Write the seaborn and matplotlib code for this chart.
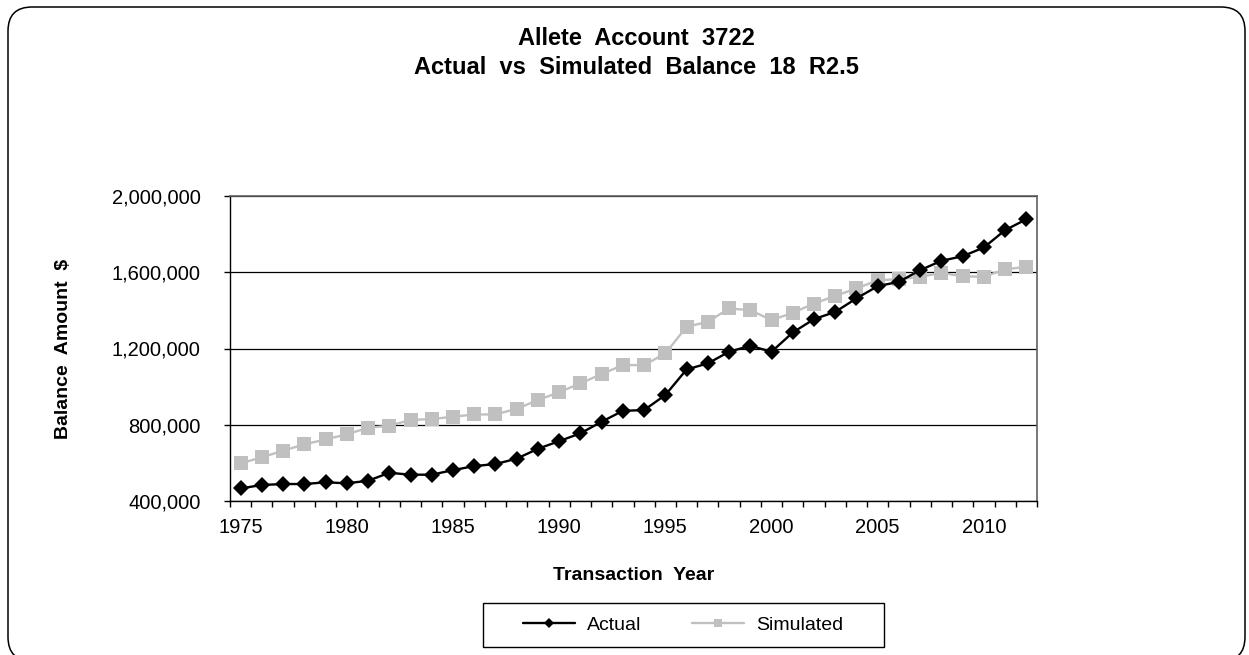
import numpy as np
import pandas as pd
import seaborn as sns
import matplotlib.pyplot as plt
from matplotlib.patches import FancyBboxPatch, Rectangle
from matplotlib.ticker import FuncFormatter, MultipleLocator, FixedLocator

years = list(range(1975, 2013))
actual = [466000, 484000, 489000, 489000, 498000, 493000, 506000, 548000, 538000, 538000,
          562000, 583000, 594000, 622000, 674000, 714000, 755000, 816000, 873000, 877000,
          956000, 1090000, 1122000, 1183000, 1214000, 1183000, 1284000, 1354000, 1392000, 1463000,
          1527000, 1550000, 1611000, 1660000, 1684000, 1730000, 1821000, 1878000]
simulated = [598000, 629000, 664000, 697000, 723000, 750000, 784000, 795000, 825000, 830000,
             842000, 854000, 854000, 884000, 929000, 971000, 1017000, 1066000, 1113000, 1113000,
             1174000, 1314000, 1340000, 1410000, 1401000, 1349000, 1387000, 1436000, 1476000, 1515000,
             1558000, 1564000, 1576000, 1597000, 1579000, 1576000, 1616000, 1628000]

sns.set_style("white")
plt.rcParams['font.family'] = ['Liberation Sans', 'DejaVu Sans']
plt.rcParams['text.color'] = 'black'
plt.rcParams['axes.labelcolor'] = 'black'

df = pd.DataFrame({'year': years, 'Actual': actual, 'Simulated': simulated})

fig = plt.figure(figsize=(12.49, 6.55), dpi=100)
ax = fig.add_axes([230 / 1249, 1 - 501 / 655, 807 / 1249, 305 / 655])

# outer rounded frame
frame = FancyBboxPatch((0.08, -0.06), 12.37, 6.54, boxstyle="round,pad=0,rounding_size=0.24",
                       transform=fig.dpi_scale_trans, facecolor='none', edgecolor='black',
                       linewidth=1.1, zorder=0)
fig.patches.append(frame)

sns.lineplot(data=df, x='year', y='Simulated', ax=ax, color='#c0c0c0', lw=1.7,
             marker='s', markersize=10, markeredgewidth=0, label='Simulated', zorder=3)
sns.lineplot(data=df, x='year', y='Actual', ax=ax, color='black', lw=1.7,
             marker='D', markersize=8, markeredgewidth=0, label='Actual', zorder=4)

ax.set_xlim(1974.5, 2012.5)
ax.set_ylim(400000, 2000000)
ax.yaxis.set_major_locator(MultipleLocator(400000))
ax.yaxis.set_major_formatter(FuncFormatter(lambda v, p: f'{int(v):,}'))
ax.xaxis.set_major_locator(FixedLocator([1975, 1980, 1985, 1990, 1995, 2000, 2005, 2010]))
ax.xaxis.set_minor_locator(FixedLocator([y - 0.5 for y in years] + [2012.5]))
ax.grid(axis='y', color='black', lw=0.9)
ax.set_axisbelow(True)

ax.tick_params(axis='x', which='major', length=0, pad=12, labelsize=14.5, colors='black')
ax.tick_params(axis='x', which='minor', length=4, width=1, direction='out', bottom=True, color='black')
ax.tick_params(axis='y', which='major', length=4, width=1, direction='out', left=True,
               pad=17, labelsize=14.5, colors='black')

for s in ['left', 'bottom']:
    ax.spines[s].set_color('black')
    ax.spines[s].set_linewidth(1)
for s in ['top', 'right']:
    ax.spines[s].set_color('#606060')
    ax.spines[s].set_linewidth(1.2)

ax.set_xlabel('Transaction  Year', fontsize=14, fontweight='bold')
ax.xaxis.set_label_coords(0.5, -0.215)
ax.set_ylabel('Balance  Amount  $', fontsize=14, fontweight='bold')
ax.yaxis.set_label_coords(-0.196, 0.5)

fig.text(636 / 1249, 1 - 53 / 655, 'Allete  Account  3722\nActual  vs  Simulated  Balance  18  R2.5',
         ha='center', va='center', fontsize=17, fontweight='bold', linespacing=1.3)

# legend
h, l = ax.get_legend_handles_labels()
order = [l.index('Actual'), l.index('Simulated')]
ax.legend([h[i] for i in order], [l[i] for i in order], ncol=2, frameon=False,
          loc='center', bbox_to_anchor=(683 / 1249, 1 - 625 / 655), bbox_transform=fig.transFigure,
          fontsize=14, handlelength=2.7, handletextpad=0.6, columnspacing=2.6, markerscale=0.6)
fig.patches.append(Rectangle((483 / 1249, 1 - 647 / 655), 401 / 1249, 44 / 655,
                             transform=fig.transFigure, facecolor='none', edgecolor='black', lw=1))

fig.savefig('out.png', dpi=100)
